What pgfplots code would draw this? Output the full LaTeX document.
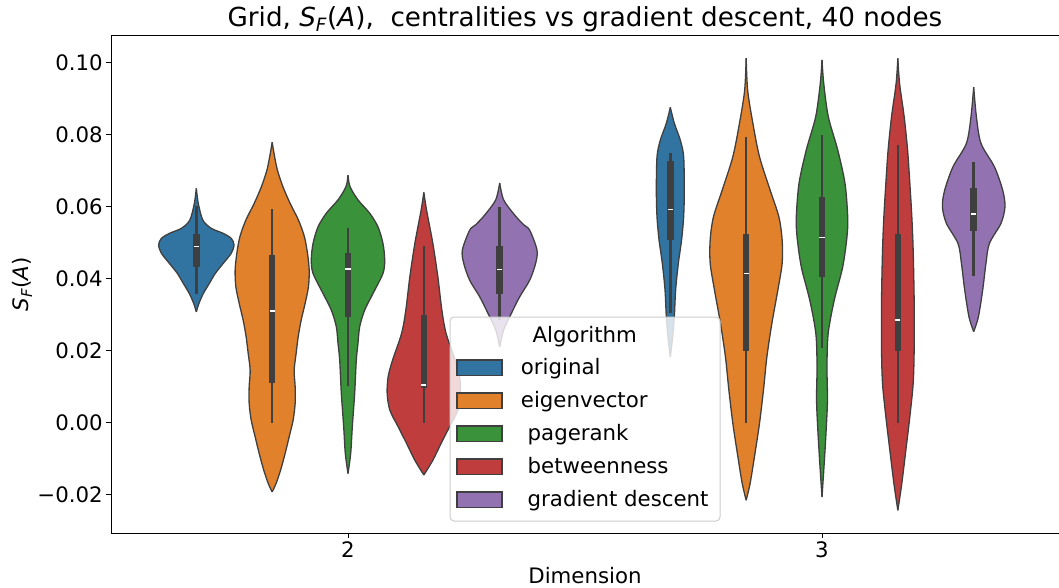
\documentclass[border=0pt]{standalone}
\usepackage{fontspec}
\setmainfont{DejaVu Sans}
\usepackage{pgfplots}
\pgfplotsset{compat=1.18}
\usepgfplotslibrary{fillbetween}
\usepackage{pgfplotstable}

\definecolor{cblue}{HTML}{3274A1}
\definecolor{corange}{HTML}{E1812C}
\definecolor{cgreen}{HTML}{3A923A}
\definecolor{cred}{HTML}{C03D3E}
\definecolor{cpurple}{HTML}{9372B2}
\definecolor{edge}{HTML}{3F3F3F}
\definecolor{legframe}{HTML}{CCCCCC}

\newcommand{\lbl}{\fontsize{21.3}{25.6}\selectfont}
\newcommand{\ttl}{\fontsize{26.2}{31.4}\selectfont}

% density profiles: y value and half-width (in category units)
\pgfplotstableread{
y w
0.0308 0
0.0332 0.0057
0.0359 0.0148
0.0387 0.0274
0.0415 0.0401
0.0443 0.0570
0.0471 0.0738
0.0494 0.0795
0.0512 0.0738
0.0526 0.0570
0.0540 0.0316
0.0563 0.0137
0.0609 0.0042
0.0651 0
}\origA
\pgfplotstableread{
y w
-0.0192 0
-0.0168 0.0084
-0.0131 0.0179
-0.0085 0.0274
-0.0039 0.0359
0.0008 0.0443
0.0054 0.0485
0.0100 0.0485
0.0146 0.0464
0.0193 0.0506
0.0239 0.0549
0.0285 0.0612
0.0332 0.0696
0.0378 0.0766
0.0424 0.0781
0.0471 0.0745
0.0517 0.0680
0.0563 0.0555
0.0609 0.0380
0.0656 0.0226
0.0702 0.0110
0.0744 0.0045
0.0779 0
}\eigA
\pgfplotstableread{
y w
-0.0141 0
-0.0085 0.0057
-0.0011 0.0091
0.0082 0.0141
0.0174 0.0175
0.0221 0.0211
0.0267 0.0247
0.0313 0.0352
0.0359 0.0527
0.0415 0.0738
0.0452 0.0774
0.0498 0.0738
0.0544 0.0633
0.0582 0.0458
0.0619 0.0211
0.0656 0.0042
0.0688 0
}\prA
\pgfplotstableread{
y w
-0.0145 0
-0.0104 0.0190
-0.0057 0.0365
-0.0011 0.0542
0.0035 0.0717
0.0082 0.0774
0.0128 0.0753
0.0174 0.0660
0.0248 0.0470
0.0313 0.0380
0.0406 0.0295
0.0498 0.0190
0.0591 0.0057
0.0640 0
}\btwA
\pgfplotstableread{
y w
0.0211 0
0.0258 0.0084
0.0304 0.0247
0.0350 0.0422
0.0396 0.0633
0.0443 0.0759
0.0480 0.0787
0.0535 0.0633
0.0550 0.0506
0.0577 0.0316
0.0619 0.0084
0.0666 0
}\gdA
\pgfplotstableread{
y w
0.0183 0
0.0230 0.0042
0.0294 0.0084
0.0369 0.0112
0.0443 0.0169
0.0508 0.0238
0.0572 0.0281
0.0646 0.0295
0.0739 0.0281
0.0785 0.0211
0.0832 0.0084
0.0876 0
}\origB
\pgfplotstableread{
y w
-0.0215 0
-0.0168 0.0084
-0.0094 0.0175
-0.0002 0.0281
0.0091 0.0365
0.0183 0.0437
0.0276 0.0542
0.0369 0.0669
0.0443 0.0759
0.0508 0.0759
0.0572 0.0690
0.0646 0.0506
0.0739 0.0281
0.0832 0.0141
0.0923 0.0032
0.1013 0
}\eigB
\pgfplotstableread{
y w
-0.0206 0
-0.0122 0.0042
-0.0029 0.0084
0.0063 0.0115
0.0156 0.0105
0.0248 0.0130
0.0341 0.0259
0.0433 0.0437
0.0517 0.0527
0.0572 0.0542
0.0665 0.0485
0.0758 0.0331
0.0850 0.0133
0.0943 0.0036
0.1008 0
}\prB
\pgfplotstableread{
y w
-0.0243 0
-0.0168 0.0084
-0.0076 0.0169
0.0017 0.0253
0.0109 0.0323
0.0202 0.0344
0.0341 0.0344
0.0480 0.0323
0.0572 0.0295
0.0665 0.0253
0.0758 0.0205
0.0850 0.0133
0.0943 0.0036
0.1012 0
}\btwB
\pgfplotstableread{
y w
0.0253 0
0.0294 0.0099
0.0369 0.0190
0.0443 0.0259
0.0498 0.0331
0.0554 0.0576
0.0600 0.0660
0.0646 0.0612
0.0711 0.0437
0.0776 0.0154
0.0850 0.0057
0.0932 0
}\gdB

\pgfplotsset{
  violinedge/.style={draw=edge, line width=1.3pt, smooth, no marks},
}

% one violin: centre, profile table, fill colour, path name
\newcommand{\violin}[4]{%
  \addplot[violinedge, name path=#4r] table[x expr=#1+\thisrow{w}, y=y]{#2};
  \addplot[violinedge, name path=#4l] table[x expr=#1-\thisrow{w}, y=y]{#2};
  \addplot[fill=#3, draw=none] fill between[of=#4r and #4l];
}
% inner box: centre, lower whisker, q1, median, q3, upper whisker
\newcommand{\innerbox}[6]{%
  \addplot[draw=edge, line width=2.4pt, no marks] coordinates {(#1,#2) (#1,#6)};
  \addplot[draw=edge, line width=6.6pt, no marks] coordinates {(#1,#3) (#1,#5)};
  \addplot[only marks, mark=-, mark size=2.6pt, mark options={draw=white, line width=1.5pt}] coordinates {(#1,#4)};
}

\begin{document}
\begin{tikzpicture}
\begin{axis}[
  at={(0pt,0pt)}, anchor=south west,
  scale only axis, width=948pt, height=497.3pt,
  xmin=-0.5, xmax=1.5, ymin=-0.0306, ymax=0.1075,
  xtick={0,1}, xticklabels={2,3},
  ytick={-0.02,0,0.02,0.04,0.06,0.08,0.1},
  yticklabels={−0.02,0.00,0.02,0.04,0.06,0.08,0.10},
  tick pos=left, tick align=outside,
  major tick length=4.7pt,
  tick style={black, line width=1pt},
  axis line style={black, line width=1pt},
  ticklabel style={font=\lbl},
]
\violin{-0.32}{\origA}{cblue}{oa}
\violin{-0.16}{\eigA}{corange}{ea}
\violin{0}{\prA}{cgreen}{pa}
\violin{0.16}{\btwA}{cred}{ba}
\violin{0.32}{\gdA}{cpurple}{ga}
\violin{0.68}{\origB}{cblue}{ob}
\violin{0.84}{\eigB}{corange}{eb}
\violin{1}{\prB}{cgreen}{pb}
\violin{1.16}{\btwB}{cred}{bb}
\violin{1.32}{\gdB}{cpurple}{gb}

\innerbox{-0.32}{0.0358}{0.0432}{0.0489}{0.0524}{0.0602}
\innerbox{-0.16}{0.0000}{0.0111}{0.0310}{0.0466}{0.0593}
\innerbox{0}{0.0102}{0.0293}{0.0427}{0.0471}{0.0542}
\innerbox{0.16}{0.0000}{0.0098}{0.0105}{0.0299}{0.0491}
\innerbox{0.32}{0.0285}{0.0359}{0.0426}{0.0491}{0.0599}
\innerbox{0.68}{0.0306}{0.0508}{0.0593}{0.0728}{0.0750}
\innerbox{0.84}{0.0000}{0.0200}{0.0415}{0.0523}{0.0793}
\innerbox{1}{0.0207}{0.0406}{0.0515}{0.0628}{0.0799}
\innerbox{1.16}{0.0000}{0.0200}{0.0285}{0.0524}{0.0771}
\innerbox{1.32}{0.0409}{0.0533}{0.0580}{0.0653}{0.0723}
\end{axis}

% title and axis labels
\node[anchor=base, font=\ttl] at (474pt,506pt)
  {Grid, \textit{S}\textsubscript{\textit{F}}(\textit{A}),\ \ centralities vs gradient descent, 40 nodes};
\node[anchor=base, font=\lbl] at (474pt,-50pt) {Dimension};
\node[anchor=base, rotate=90, font=\lbl] at (-82.5pt,248.6pt)
  {\textit{S}\textsubscript{\textit{F}}(\textit{A})};

% legend
\draw[rounded corners=4pt, draw=legframe, line width=1pt, fill=white, fill opacity=0.8]
  (339pt,12pt) rectangle (609pt,216pt);
\node[anchor=base, font=\lbl] at (473.7pt,190.7pt) {Algorithm};
\foreach \yc/\col/\txt in {165.3/cblue/original, 132.3/corange/eigenvector,
    99.3/cgreen/\ pagerank, 66.3/cred/\ betweenness, 33.3/cpurple/\ gradient descent}{
  \draw[fill=\col, draw=edge, line width=1.3pt]
    (346pt,\yc pt-7.85pt) rectangle (391pt,\yc pt+7.85pt);
  \node[anchor=base west, font=\lbl, inner sep=0pt] at (409.7pt,\yc pt-6.6pt) {\txt};
}

% page frame
\pgfresetboundingbox
\path[use as bounding box] (-111pt,-54pt) rectangle (948pt,533pt);
\end{tikzpicture}
\end{document}
